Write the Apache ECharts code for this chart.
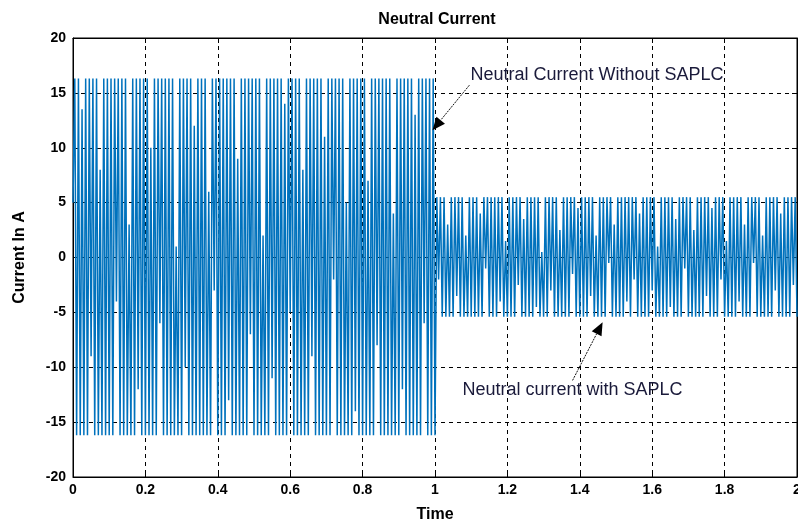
<!DOCTYPE html>
<html>
<head>
<meta charset="utf-8">
<script src="https://cdn.jsdelivr.net/npm/echarts@6/dist/echarts.min.js"></script>
<style>
html,body{margin:0;padding:0;background:#fff;overflow:hidden;}
#chart{width:798px;height:525px;}
</style>
</head>
<body>
<div id="chart"></div>
<script>
// ---- data ----
const chartTitle = 'Neutral Current';
const xAxisName = 'Time';
const yAxisName = 'Current In A';
const sampleStep = 0.005; // seconds between plotted extrema
// extrema of neutral current, t = 0 ... 1.00 s (without SAPLC)
const withoutSaplc = [
  5, 16.3, -16.2, 16.3, -16.2, 13.5, -16.2, 16.3, -16.2, 16.3,
  -9, 16.3, -16.2, 16.3, -16.2, 8, -16.2, 16.3, -16.2, 16.3,
  -16.2, 16.3, -16.2, 16.3, -4, 16.3, -16.2, 16.3, -16.2, 16.3,
  -16.2, 3, -16.2, 16.3, -16.2, 16.3, -12, 16.3, -16.2, 16.3,
  -16.2, 16.3, -16.2, 10, -16.2, 16.3, -16.2, 16.3, -6, 16.3,
  -16.2, 16.3, -16.2, 16.3, -16.2, 16.3, -16.2, 1, -16.2, 16.3,
  -16.2, 16.3, -10, 16.3, -16.2, 16.3, -16.2, 12, -16.2, 16.3,
  -16.2, 16.3, -16.2, 16.3, -16.2, 6, -16.2, 16.3, -3, 16.3,
  -16.2, 16.3, -16.2, 16.3, -16.2, 16.3, -13, 16.3, -16.2, 16.3,
  -16.2, 9, -16.2, 16.3, -16.2, 16.3, -16.2, 16.3, -7, 16.3,
  -16.2, 16.3, -16.2, 16.3, -16.2, 2, -16.2, 16.3, -16.2, 16.3,
  -11, 16.3, -16.2, 16.3, -16.2, 16.3, -16.2, 14, -16.2, 16.3,
  -5, 16.3, -16.2, 16.3, -16.2, 16.3, -16.2, 8, -16.2, 16.3,
  -16.2, 16.3, -9, 16.3, -16.2, 16.3, -16.2, 16.3, -16.2, 11,
  -16.2, 16.3, -16.2, 16.3, -2, 16.3, -16.2, 16.3, -16.2, 16.3,
  -16.2, 5, -16.2, 16.3, -16.2, 16.3, -14, 16.3, -16.2, 16.3,
  -16.2, 16.3, -16.2, 7, -16.2, 16.3, -16.2, 16.3, -8, 16.3,
  -16.2, 16.3, -16.2, 16.3, -16.2, 16.3, -16.2, 4, -16.2, 16.3,
  -16.2, 16.3, -12, 16.3, -16.2, 16.3, -16.2, 16.3, -16.2, 13,
  -16.2, 16.3, -16.2, 16.3, -6, 16.3, -16.2, 16.3, -16.2, 16.3,
  -16.2
];
// extrema of neutral current, t = 1.005 ... 2.00 s (with SAPLC)
const withSaplc = [
  5.5, -2, 5.5, -5.4, 5.5, -5.4, 3, -5.4, 5.5, -5.4,
  5.5, -3.5, 5.5, -5.4, 5.5, -5.4, 2, -5.4, 5.5, -5.4,
  5.5, -5.4, 5.5, -5.4, 4, -5.4, 5.5, -1, 5.5, -5.4,
  5.5, -5.4, 5.5, -5.4, 5.5, -4, 5.5, -5.4, 1.5, -5.4,
  5.5, -5.4, 5.5, -5.4, 5.5, -2.5, 5.5, -5.4, 3.5, -5.4,
  5.5, -5.4, 5.5, -5.4, 5.5, -4.5, 5.5, -5.4, 0.5, -5.4,
  5.5, -5.4, 5.5, -3, 5.5, -5.4, 5.5, -5.4, 2.5, -5.4,
  5.5, -5.4, 5.5, -5.4, 5.5, -1.5, 5.5, -5.4, 4.5, -5.4,
  5.5, -5.4, 5.5, -5.4, 5.5, -3.5, 5.5, -5.4, 2, -5.4,
  5.5, -5.4, 5.5, -5.4, 5.5, -0.5, 5.5, -5.4, 3, -5.4,
  5.5, -5.4, 5.5, -5.4, 5.5, -4, 5.5, -5.4, 5.5, -2,
  5.5, -5.4, 4, -5.4, 5.5, -5.4, 5.5, -5.4, 5.5, -3,
  5.5, -5.4, 1, -5.4, 5.5, -5.4, 5.5, -5.4, 5.5, -4.5,
  5.5, -5.4, 3.5, -5.4, 5.5, -5.4, 5.5, -1, 5.5, -5.4,
  5.5, -5.4, 2.5, -5.4, 5.5, -5.4, 5.5, -5.4, 5.5, -3.5,
  5.5, -5.4, 4.5, -5.4, 5.5, -5.4, 5.5, -2, 5.5, -5.4,
  1.5, -5.4, 5.5, -5.4, 5.5, -5.4, 5.5, -4, 5.5, -5.4,
  3, -5.4, 5.5, -5.4, 5.5, -0.5, 5.5, -5.4, 5.5, -5.4,
  2, -5.4, 5.5, -5.4, 5.5, -5.4, 5.5, -3, 5.5, -5.4,
  4, -5.4, 5.5, -5.4, 5.5, -5.4, 5.5, -2.5, 5.5, -5.4
];
const switchTime = 1.0;
// annotations (data coordinates)
const noteWithout = { text: 'Neutral Current Without SAPLC', at: [1.098, 16.6], tail: [1.095, 15.7], head: [0.993, 11.6] };
const noteWith = { text: 'Neutral current with SAPLC', at: [1.076, -12.1], tail: [1.38, -11.2], head: [1.463, -5.9] };

// ---- build series ----
const seriesData = [];
withoutSaplc.forEach((v, i) => seriesData.push([+(i * sampleStep).toFixed(4), v]));
withSaplc.forEach((v, i) => seriesData.push([+(switchTime + (i + 1) * sampleStep).toFixed(4), v]));

const fontFam = '"Liberation Sans",Arial,sans-serif';
const tickFont = { color: '#000', fontWeight: 'bold', fontSize: 14, fontFamily: fontFam };
const nameFont = { color: '#000', fontWeight: 'bold', fontSize: 16, fontFamily: fontFam };
const gridLine = { show: true, lineStyle: { color: '#000', type: [4, 4], width: 1 } };
const tickStyle = { show: true, inside: true, length: 5, lineStyle: { color: '#000' } };

const chart = echarts.init(document.getElementById('chart'), null, { renderer: 'canvas' });
chart.setOption({
  animation: false,
  backgroundColor: '#fff',
  title: {
    text: chartTitle, left: 432, top: 7, textAlign: 'center',
    textStyle: { fontSize: 16, fontWeight: 'bold', color: '#000', fontFamily: fontFam }
  },
  grid: { left: 73, right: 1, top: 38, bottom: 48, show: true, borderColor: '#000', borderWidth: 1, containLabel: false, outerBoundsMode: 'none' },
  xAxis: [{
    type: 'value', min: 0, max: 2, interval: 0.2,
    name: xAxisName, nameLocation: 'middle', nameGap: 30,
    nameTextStyle: nameFont,
    axisLine: { show: true, onZero: false, lineStyle: { color: '#000' } },
    axisTick: tickStyle,
    axisLabel: Object.assign({ margin: 6 }, tickFont),
    splitLine: gridLine
  }, {
    type: 'value', min: 0, max: 2, interval: 0.2, position: 'top',
    axisLine: { show: true, onZero: false, lineStyle: { color: '#000' } },
    axisTick: tickStyle, axisLabel: { show: false }, splitLine: { show: false }
  }],
  yAxis: [{
    type: 'value', min: -20, max: 20, interval: 5,
    name: yAxisName, nameLocation: 'middle', nameGap: 45, nameRotate: 90,
    nameTextStyle: nameFont,
    axisLine: { show: true, onZero: false, lineStyle: { color: '#000' } },
    axisTick: tickStyle,
    axisLabel: Object.assign({ margin: 7 }, tickFont),
    splitLine: gridLine
  }, {
    type: 'value', min: -20, max: 20, interval: 5, position: 'right',
    axisLine: { show: true, onZero: false, lineStyle: { color: '#000' } },
    axisTick: tickStyle, axisLabel: { show: false }, splitLine: { show: false }
  }],
  series: [{
    type: 'line', data: seriesData, showSymbol: false, symbol: 'none',
    lineStyle: { color: '#0072BD', width: 1.5 }, z: 3
  }]
});

function arrowGraphic(note) {
  const t = chart.convertToPixel({ gridIndex: 0 }, note.tail);
  const h = chart.convertToPixel({ gridIndex: 0 }, note.head);
  const ang = Math.atan2(h[1] - t[1], h[0] - t[0]);
  const L = 13, W = 5.5;
  const bx = h[0] - L * Math.cos(ang), by = h[1] - L * Math.sin(ang);
  const px = -Math.sin(ang) * W, py = Math.cos(ang) * W;
  return [
    { type: 'line', shape: { x1: t[0], y1: t[1], x2: bx, y2: by }, style: { stroke: '#111', lineWidth: 1, lineDash: [2, 1] }, z: 10 },
    { type: 'polygon', shape: { points: [[h[0], h[1]], [bx + px, by + py], [bx - px, by - py]] }, style: { fill: '#000' }, z: 10 }
  ];
}
function textGraphic(note) {
  const p = chart.convertToPixel({ gridIndex: 0 }, note.at);
  return { type: 'text', x: p[0], y: p[1], style: { text: note.text, fill: '#1a1a3a', font: '18px "Liberation Sans", Arial, sans-serif', textAlign: 'left', textVerticalAlign: 'middle' }, z: 10 };
}
chart.setOption({
  graphic: [].concat(arrowGraphic(noteWithout), arrowGraphic(noteWith), [textGraphic(noteWithout), textGraphic(noteWith)])
});
</script>
</body>
</html>
